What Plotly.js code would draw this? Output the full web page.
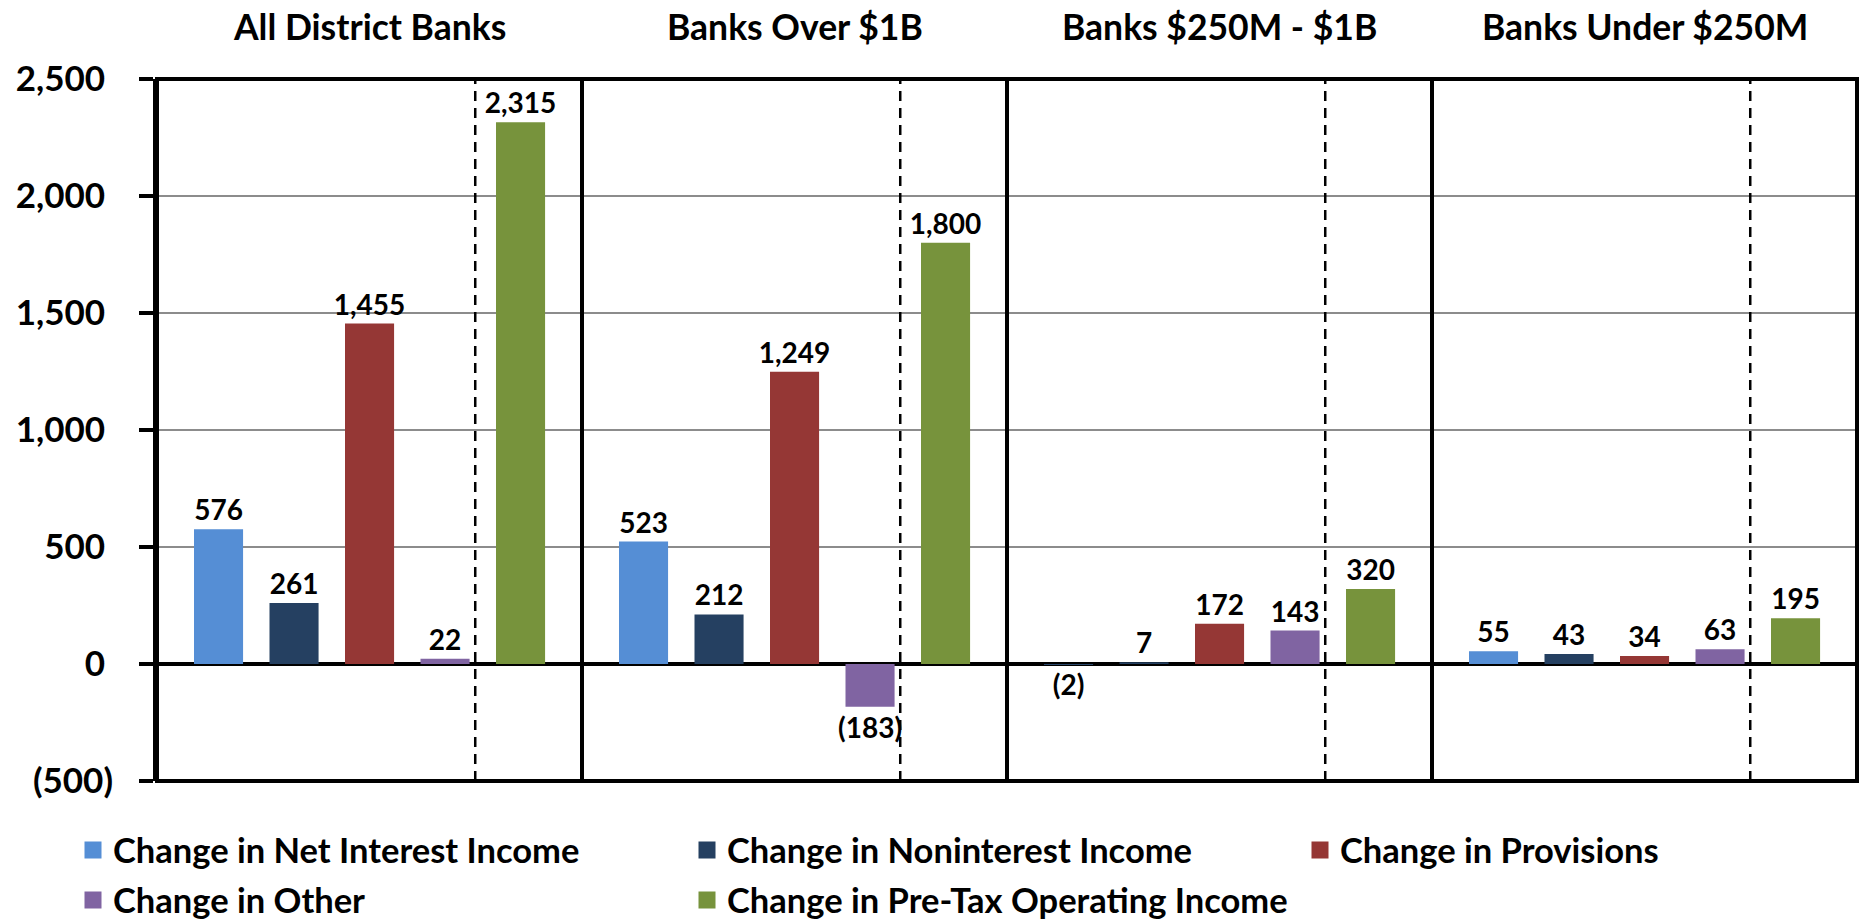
<!DOCTYPE html>
<html>
<head>
<meta charset="utf-8">
<script src="https://cdn.plot.ly/plotly-3.0.1.min.js"></script>
<style>
  html, body { margin: 0; padding: 0; background: #fff; }
  #chart { width: 1863px; height: 919px; }
</style>
</head>
<body>
<div id="chart"></div>
<script>
// ---- Data ----
const panels = ['All District Banks', 'Banks Over $1B', 'Banks $250M - $1B', 'Banks Under $250M'];
const seriesNames = [
  'Change in Net Interest Income',
  'Change in Noninterest Income',
  'Change in Provisions',
  'Change in Other',
  'Change in Pre-Tax Operating Income'
];
const netInterestIncome = [576, 523, -2, 55];
const noninterestIncome = [261, 212, 7, 43];
const provisions = [1455, 1249, 172, 34];
const other = [22, -183, 143, 63];
const preTaxOperatingIncome = [2315, 1800, 320, 195];
const yTickVals = [-500, 0, 500, 1000, 1500, 2000, 2500];
const yTickText = ['(500)', '0\u2008', '500\u2008', '1,000\u2008', '1,500\u2008', '2,000\u2008', '2,500\u2008'];

// ---- Styles ----
const seriesValues = [netInterestIncome, noninterestIncome, provisions, other, preTaxOperatingIncome];
const seriesColors = ['#558ED5', '#254061', '#953735', '#8064A2', '#77933C'];
const FONT = 'Lato, "Open Sans", Roboto, sans-serif';
// legend placement (container fractions) for each series entry
const legendPos = [
  { x: 73 / 1863, y: 69 / 919 },
  { x: 687 / 1863, y: 69 / 919 },
  { x: 1300 / 1863, y: 69 / 919 },
  { x: 73 / 1863, y: 19 / 919 },
  { x: 687 / 1863, y: 19 / 919 }
];

function fmt(v) {
  const s = Math.abs(v).toLocaleString('en-US');
  return v < 0 ? '(' + s + ')' : s;
}

const axisIds = ['x', 'x2', 'x3', 'x4'];
const legendIds = ['legend', 'legend2', 'legend3', 'legend4', 'legend5'];
const traces = [];
panels.forEach((p, pi) => {
  seriesNames.forEach((s, si) => {
    const v = seriesValues[si][pi];
    traces.push({
      type: 'bar',
      x: [s],
      y: [v],
      xaxis: axisIds[pi],
      yaxis: 'y',
      name: s,
      legendgroup: 'g' + si,
      showlegend: false,
      width: 0.65,
      marker: { color: seriesColors[si], line: { width: 0 } },
      text: [fmt(v)],
      textposition: 'outside',
      constraintext: 'none',
      cliponaxis: false,
      textfont: { family: FONT, size: 28, color: '#000', weight: 'bold' },
      hoverinfo: 'skip'
    });
  });
});
// legend entries (no marks of their own)
seriesNames.forEach((s, si) => {
  traces.push({
    type: 'bar',
    x: [s],
    y: [null],
    xaxis: 'x',
    yaxis: 'y',
    name: s,
    legend: legendIds[si],
    legendgroup: 'g' + si,
    showlegend: true,
    marker: { color: seriesColors[si], line: { color: seriesColors[si], width: 5 } },
    hoverinfo: 'skip'
  });
});

const layout = {
  width: 1863,
  height: 919,
  paper_bgcolor: '#fff',
  plot_bgcolor: '#fff',
  margin: { l: 157, r: 6, t: 79, b: 138, pad: 0 },
  barmode: 'overlay',
  showlegend: true,
  font: { family: FONT, color: '#000' },
  yaxis: {
    range: [-500, 2500],
    tickvals: yTickVals,
    ticktext: yTickText,
    tickfont: { family: FONT, size: 35, color: '#000', weight: 'bold' },
    showgrid: true,
    gridcolor: '#8c8c8c',
    gridwidth: 1.5,
    zeroline: true,
    zerolinecolor: '#000',
    zerolinewidth: 4,
    showline: true,
    linecolor: '#000',
    linewidth: 4,
    ticks: 'outside',
    ticklen: 14,
    tickwidth: 4,
    tickcolor: '#000',
    ticklabelstandoff: 19,
    fixedrange: true
  },
  shapes: [],
  annotations: []
};

legendIds.forEach((lid, i) => {
  layout[lid] = {
    orientation: 'h',
    xref: 'container', yref: 'container',
    x: legendPos[i].x, y: legendPos[i].y, xanchor: 'left', yanchor: 'middle',
    font: { family: FONT, size: 34.5, color: '#000', weight: 'bold' },
    bgcolor: 'rgba(0,0,0,0)', borderwidth: 0
  };
});

axisIds.forEach((id, i) => {
  const key = i === 0 ? 'xaxis' : 'xaxis' + (i + 1);
  layout[key] = {
    domain: [i / 4, (i + 1) / 4],
    anchor: 'y',
    type: 'category',
    categoryorder: 'array',
    categoryarray: seriesNames,
    range: [-0.815, 4.814],
    showticklabels: false,
    showgrid: false,
    zeroline: false,
    ticks: '',
    showline: false,
    fixedrange: true
  };
  // panel frame
  layout.shapes.push({
    type: 'rect', xref: id + ' domain', yref: 'y domain',
    x0: 0, x1: 1, y0: 0, y1: 1,
    line: { color: '#000', width: 4 }, layer: 'above'
  });
  // dashed separator before pre-tax bar
  layout.shapes.push({
    type: 'line', xref: id, yref: 'y domain',
    x0: 3.4, x1: 3.4, y0: 0, y1: 1,
    line: { color: '#000', width: 2.5, dash: '10px,7px' }, layer: 'above'
  });
  // panel title
  layout.annotations.push({
    text: panels[i],
    xref: id + ' domain', yref: 'paper',
    x: 0.5, y: 1, xanchor: 'center', yanchor: 'middle', yshift: 53,
    showarrow: false,
    font: { family: FONT, size: 35.5, color: '#000', weight: 'bold' }
  });
});

Plotly.newPlot('chart', traces, layout, { displayModeBar: false, staticPlot: true });
</script>
</body>
</html>
